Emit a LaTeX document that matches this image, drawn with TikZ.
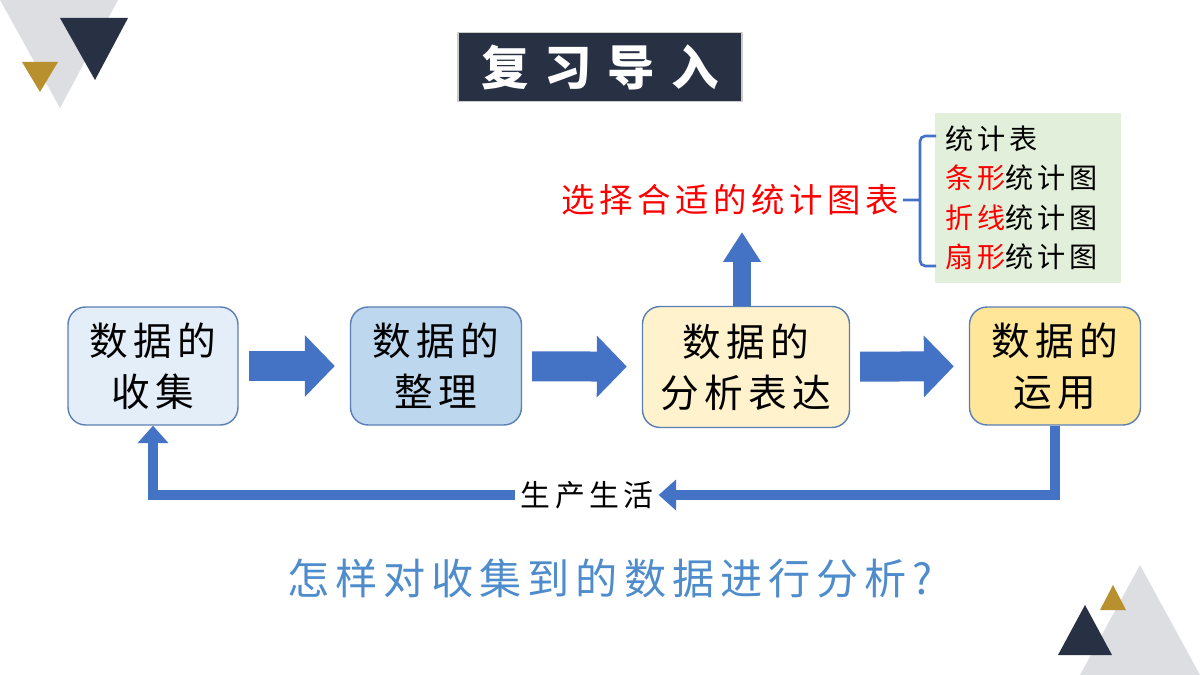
\documentclass[tikz,border=0pt]{standalone}
\usepackage{fontspec}
\newfontfamily\cjk{Noto Sans CJK SC}
\newfontfamily\cjkwide{Noto Sans CJK SC}[LetterSpace=14]
\usepackage{tikz}
\usetikzlibrary{arrows.meta}
\definecolor{navy}{HTML}{283044}
\definecolor{gold}{HTML}{B8902E}
\definecolor{ltgray}{HTML}{DCDEE2}
\definecolor{arrblue}{HTML}{4472C4}
\definecolor{edgeblue}{HTML}{5A7FB5}
\definecolor{fillA}{HTML}{E3EEF9}
\definecolor{fillB}{HTML}{BDD7EE}
\definecolor{fillC}{HTML}{FFF2CC}
\definecolor{fillD}{HTML}{FFE699}
\definecolor{greenbg}{HTML}{E2EFDA}
\definecolor{qblue}{HTML}{4F8CCB}
\tikzset{
  stage/.style={draw=edgeblue, rounded corners=10pt, line width=0.8pt,
    align=center, font=\cjkwide\fontsize{22}{29}\selectfont, inner sep=0pt},
  blk/.style={arrblue, line width=0.6cm, shorten <=0.2cm, shorten >=0.3cm,
    -{Triangle[width=1.2cm,length=0.6cm]}},
  back/.style={arrblue, line width=0.2cm, -{Triangle[width=0.6cm,length=0.35cm]}},
}
\begin{document}
\begin{tikzpicture}[x=0.02cm,y=-0.02cm]
  \useasboundingbox (0,0) rectangle (1200,675);
  % corner decorations
  \fill[ltgray] (0,0) -- (118,0) -- (60,108) -- cycle;
  \fill[navy] (60,18) -- (128,18) -- (95,80) -- cycle;
  \fill[gold] (22,62) -- (58,62) -- (40,92) -- cycle;
  \fill[ltgray] (1140,565) -- (1200,675) -- (1080,675) -- cycle;
  \fill[gold] (1113,585) -- (1126,610) -- (1100,610) -- cycle;
  \fill[navy] (1085,605) -- (1112,655) -- (1058,655) -- cycle;
  % title
  \node[fill=navy, draw=gray!40, line width=1pt, text=white, minimum width=5.68cm,
    minimum height=1.38cm, font=\cjk\bfseries\fontsize{27}{30}\selectfont] (title)
    at (600,67) {复\,\,习\,\,导\,\,入};
  % stages
  \node[stage, fill=fillA, minimum width=3.4cm, minimum height=2.36cm] (collect) at (153,366) {数据的\\收集};
  \node[stage, fill=fillB, minimum width=3.42cm, minimum height=2.36cm] (sort) at (436,366) {数据的\\整理};
  \node[stage, fill=fillC, minimum width=4.14cm, minimum height=2.42cm] (analyse) at (746,367) {数据的\\分析表达};
  \node[stage, fill=fillD, minimum width=3.42cm, minimum height=2.36cm] (apply) at (1055,366) {数据的\\运用};
  \draw[blk] (collect) -- (sort);
  \draw[blk] (sort) -- (analyse);
  \draw[blk] (analyse) -- (apply);
  % chart choice
  \node[text=red, font=\cjkwide\fontsize{19}{22}\selectfont, inner sep=2pt] (choose) at (730,200) {选择合适的统计图表};
  \coordinate (up) at (742,232);
  \draw[arrblue, line width=0.36cm, -{Triangle[width=0.72cm,length=0.6cm]}]
    (analyse.north -| up) -- (up);
  \node[fill=greenbg, minimum width=3.74cm, minimum height=3.4cm] (kinds) at (1028,198) {};
  \node[anchor=west, align=left, inner sep=0pt, font=\cjkwide\fontsize{16}{22.5}\selectfont] (list) at (945,198)
    {统计表\\\textcolor{red}{条形}统计图\\\textcolor{red}{折线}统计图\\\textcolor{red}{扇形}统计图};
  \coordinate (brace) at (920,200);
  \draw[arrblue, line width=1.5pt, rounded corners=3pt]
    (choose.east) -- (brace) (936,136) -| (brace) |- (936,266);
  % feedback loop
  \node[font=\cjkwide\fontsize{17}{20}\selectfont, inner sep=3pt] (life) at (587,495) {生产生活};
  \draw[back] (apply.south) |- (life.east);
  \draw[back] (life.west) -| (collect.south);
  % question
  \node[text=qblue, font=\cjkwide\fontsize{24}{28}\selectfont] (question) at (610,578) {怎样对收集到的数据进行分析?};
\end{tikzpicture}
\end{document}
